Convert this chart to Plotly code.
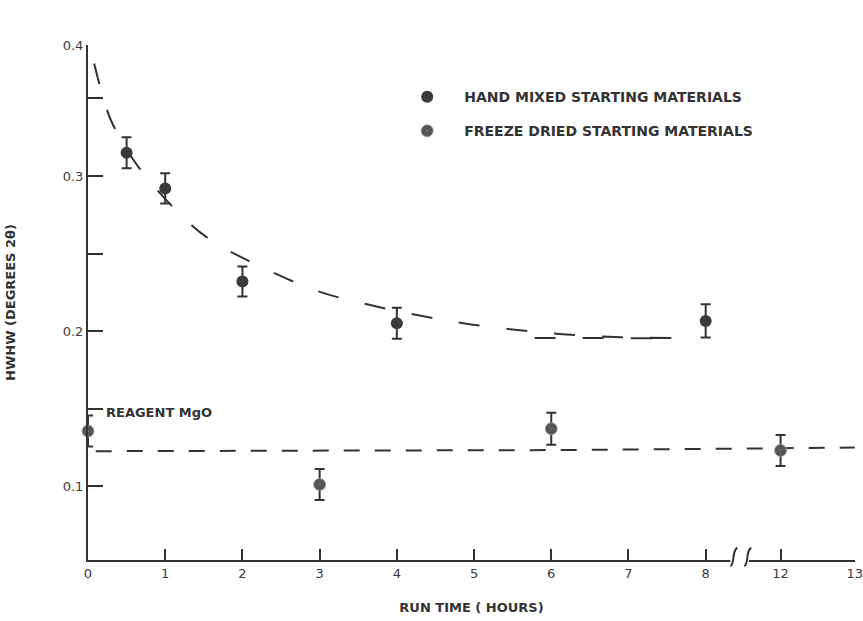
import plotly.graph_objects as go

# ---------------- data ----------------
hand_hours = [0.5, 1, 2, 4, 8]
hand_hwhm = [0.315, 0.292, 0.232, 0.205, 0.2065]
hand_err = [0.010, 0.0097, 0.0097, 0.010, 0.0107]

freeze_hours = [0, 3, 6, 12]
freeze_hwhm = [0.1355, 0.101, 0.137, 0.123]
freeze_err = [0.010, 0.0100, 0.0103, 0.010]

# dashed guide curves
upper_curve_hours = [0.08, 0.18, 0.31, 0.65, 1.24, 1.58, 2.05, 2.96, 3.6, 4.26, 4.86, 5.5, 6.15, 6.9, 7.6, 8.45]
upper_curve_hwhm = [0.3725, 0.3535, 0.3345, 0.306, 0.273, 0.259, 0.246, 0.226, 0.2174, 0.2103, 0.205, 0.201, 0.198, 0.196, 0.1955, 0.1955]
lower_curve_hours = [0.1, 3, 6, 8, 12, 13]
lower_curve_hwhm = [0.1225, 0.1228, 0.1232, 0.124, 0.1245, 0.1248]

x_tick_hours = [0, 1, 2, 3, 4, 5, 6, 7, 8, 12, 13]
x_tick_labels = ["0", "1", "2", "3", "4", "5", "6", "7", "8", "12", "13"]
y_tick_vals = [0.1, 0.15, 0.2, 0.25, 0.3, 0.35, 0.3845]
y_tick_labels = ["0.1", "", "0.2", "", "0.3", "", "0.4"]


def pos(h):
    """broken time axis: 8 h is followed directly by 12 h"""
    return h if h <= 8 else 8.97 + (h - 12) * 0.96


INK = "#333333"
FONT = "DejaVu Sans"

fig = go.Figure()

fig.add_trace(go.Scatter(
    x=[pos(h) for h in upper_curve_hours], y=upper_curve_hwhm, mode="lines",
    line=dict(color=INK, width=2, dash="21px,27px", shape="spline"),
    showlegend=False, hoverinfo="skip"))
fig.add_trace(go.Scatter(
    x=[pos(h) for h in lower_curve_hours], y=lower_curve_hwhm, mode="lines",
    line=dict(color=INK, width=2, dash="16px,15px"),
    showlegend=False, hoverinfo="skip"))

fig.add_trace(go.Scatter(
    x=[pos(h) for h in hand_hours], y=hand_hwhm, mode="markers",
    name="HAND MIXED STARTING MATERIALS", legendgroup="a",
    marker=dict(symbol="circle", size=12, color="#3a3a3a"),
    error_y=dict(type="data", array=hand_err, color=INK, thickness=2, width=5),
    cliponaxis=False))
fig.add_trace(go.Scatter(
    x=[pos(h) for h in freeze_hours], y=freeze_hwhm, mode="markers",
    name="FREEZE DRIED STARTING MATERIALS", legendgroup="b",
    marker=dict(symbol="circle-dot", size=12, color="#555555",
                line=dict(color="#9a9a9a", width=1)),
    error_y=dict(type="data", array=freeze_err, color=INK, thickness=2, width=5),
    cliponaxis=False))

# axis break marks between 8 and 12
shapes = [
    dict(type="rect", xref="x", yref="paper", x0=pos(8) + 0.32, x1=pos(8) + 0.56,
         y0=-0.01, y1=0.01, fillcolor="white", line=dict(width=0), layer="above"),
]
for dx in (0.36, 0.54):
    shapes.append(dict(type="path", xref="x", yref="paper",
                       path=f"M {pos(8)+dx-0.04},-0.012 Q {pos(8)+dx-0.01},-0.01 {pos(8)+dx},0.005 "
                            f"T {pos(8)+dx+0.05},0.024",
                       line=dict(color=INK, width=2), layer="above"))

fig.update_layout(
    width=863, height=621,
    margin=dict(l=88, r=8, t=45, b=61),
    paper_bgcolor="white", plot_bgcolor="white",
    font=dict(family=FONT, color=INK),
    shapes=shapes,
    showlegend=True,
    legend=dict(x=0.394, y=0.93, xanchor="left", yanchor="top",
                font=dict(family=FONT, size=14, color=INK, weight="bold"),
                itemwidth=64, tracegroupgap=13, bgcolor="rgba(0,0,0,0)"),
    xaxis=dict(range=[0, pos(13) + 0.004], tickvals=[pos(h) for h in x_tick_hours],
               ticktext=x_tick_labels, ticks="inside", ticklen=11, tickwidth=2,
               tickcolor=INK, showline=True, linecolor=INK, linewidth=2,
               showgrid=False, zeroline=False, automargin=False,
               ticklabeloverflow="allow",
               tickfont=dict(family=FONT, size=13, color="#3a3a3a"),
               title=dict(text="RUN TIME ( HOURS)", standoff=23,
                          font=dict(family=FONT, size=13, color=INK, weight="bold"))),
    yaxis=dict(range=[0.0523, 0.3845], tickvals=y_tick_vals, ticktext=y_tick_labels,
               ticks="inside", ticklen=15, tickwidth=2, tickcolor=INK,
               showline=True, linecolor=INK, linewidth=2,
               showgrid=False, zeroline=False, automargin=False,
               tickfont=dict(family=FONT, size=13, color="#3a3a3a"),
               title=dict(text="HWHW (DEGREES 2θ)", standoff=44,
                          font=dict(family=FONT, size=13, color=INK, weight="bold"))),
    annotations=[
        dict(x=pos(0.21), y=0.1477, xref="x", yref="y", text="REAGENT MgO",
             showarrow=False, xanchor="left", yanchor="middle",
             font=dict(family=FONT, size=13, color=INK, weight="bold")),
    ],
)

fig.write_html("out.html", config={"displayModeBar": False},
               post_script="document.body.style.margin='0';document.body.style.overflow='hidden';")
